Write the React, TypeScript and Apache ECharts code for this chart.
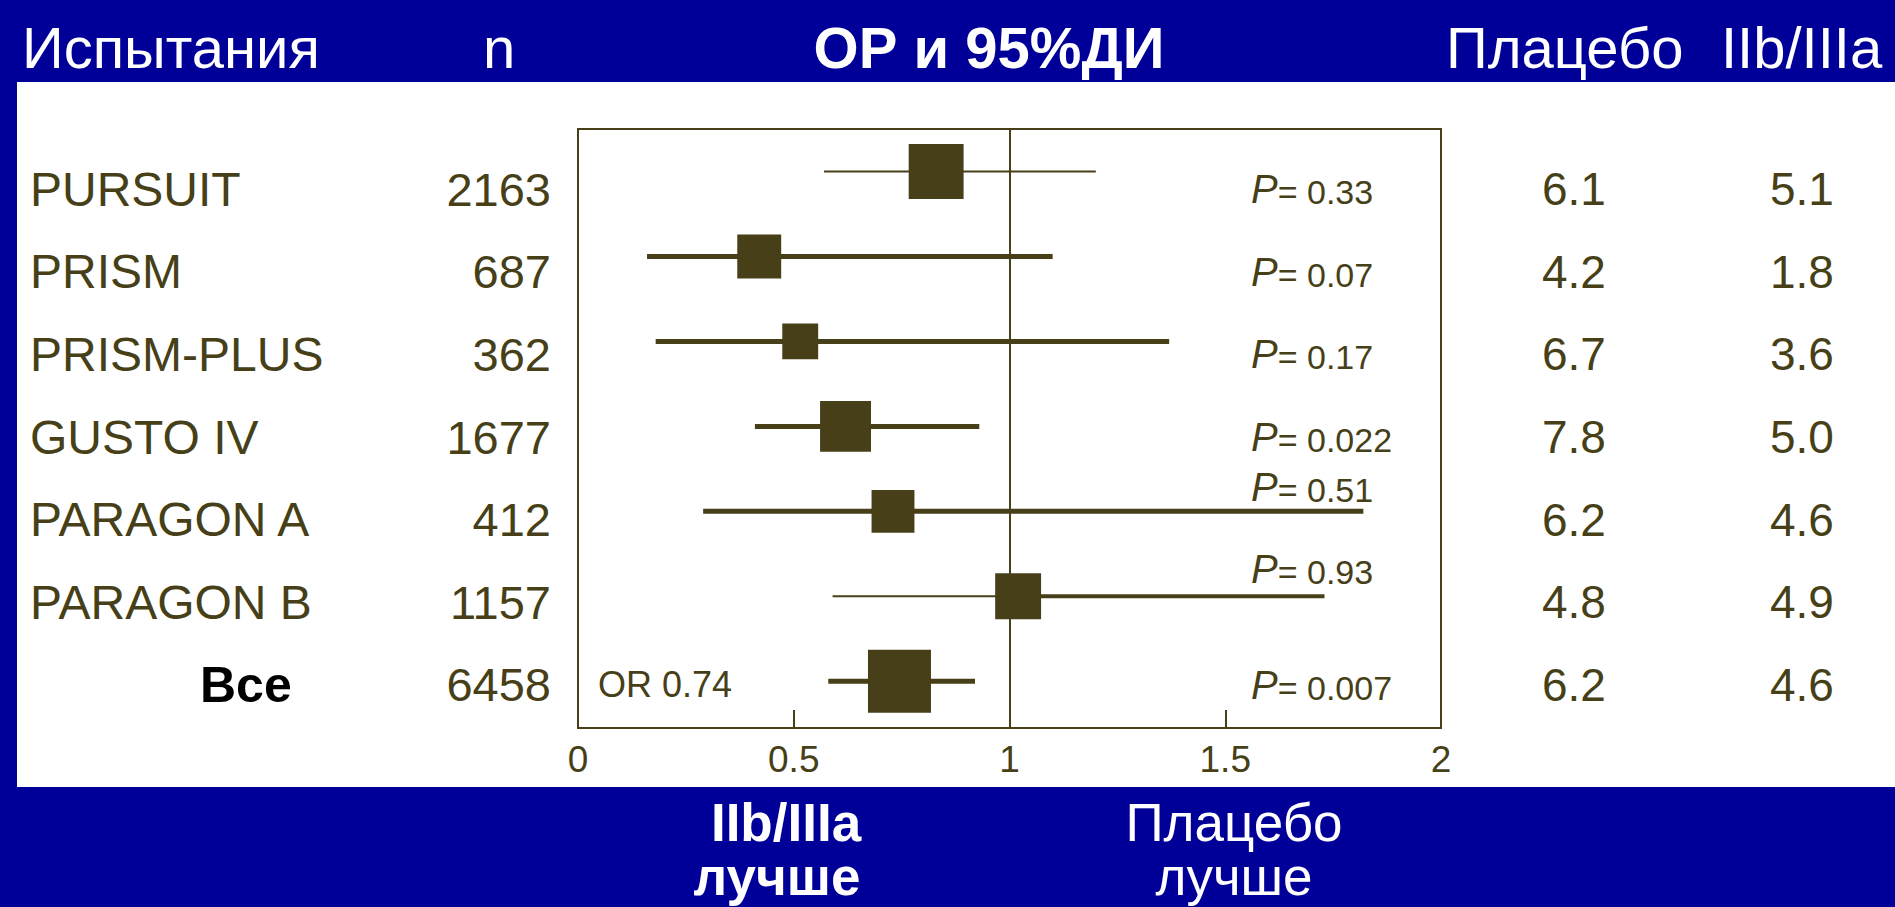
import React, { useEffect, useRef } from 'react';
import * as echarts from 'echarts';

// ---------- data ----------
const studies = ['PURSUIT', 'PRISM', 'PRISM-PLUS', 'GUSTO IV', 'PARAGON A', 'PARAGON B', 'Все'];
const nPatients = ['2163', '687', '362', '1677', '412', '1157', '6458'];
const oddsRatios = [0.83, 0.42, 0.515, 0.62, 0.73, 1.02, 0.745];
const ciLower = [0.57, 0.16, 0.18, 0.41, 0.29, 0.59, 0.58];
const ciUpper = [1.2, 1.1, 1.37, 0.93, 1.82, 1.73, 0.92];
const pValues = ['0.33', '0.07', '0.17', '0.022', '0.51', '0.93', '0.007'];
const placeboRates = ['6.1', '4.2', '6.7', '7.8', '6.2', '4.8', '6.2'];
const iib3aRates = ['5.1', '1.8', '3.6', '5.0', '4.6', '4.9', '4.6'];
const studyWeights = [23.6, 15.1, 10.1, 20.3, 14.4, 16.5, 100];
const pooledOR = '0.74';
const nullEffect = 1;
const xMin = 0;
const xMax = 2;
const xInterval = 0.5;

// ---------- style ----------
const BLUE = '#000099';
const OLIVE = '#463f18';
const FONT = '"Liberation Sans", Arial, Helvetica, sans-serif';
const summaryIndex = studies.length - 1;
const boxScale = 11.3;
const summarySide = 63;
const defaultStroke = [5, 5];
const ciStroke: Record<string, number[]> = { PURSUIT: [2, 2], 'PARAGON B': [2, 4] };
const pColumnStart = 1.55; // x value where the P column text begins

export default function App() {
  const ref = useRef<HTMLDivElement>(null);

  useEffect(() => {
    if (!ref.current) return;
    const chart = echarts.init(ref.current, undefined, { renderer: 'svg' });

    const tableAxis = (position: string, margin: number, align: string, formatter: any, extra: any = {}) => ({
      type: 'category',
      gridIndex: 1,
      position,
      inverse: true,
      data: studies,
      axisLine: { show: false },
      axisTick: { show: false },
      splitLine: { show: false },
      axisLabel: {
        show: true,
        interval: 0,
        margin,
        align,
        formatter,
        color: OLIVE,
        fontSize: 46,
        fontFamily: FONT,
        ...extra,
      },
    });

    const pRich = {
      p: { fontSize: 40, fontStyle: 'italic', color: OLIVE, fontFamily: FONT, verticalAlign: 'bottom' },
      v: { fontSize: 34, color: OLIVE, fontFamily: FONT, verticalAlign: 'bottom' },
    };
    const lifted = (i: number) => ciUpper[i] > pColumnStart;
    const white = (text: string, x: number, y: number, align: string, bold = false, size = 58) => ({
      type: 'text',
      z: 10,
      x,
      y,
      style: { text, fill: '#fff', fontSize: size, fontWeight: bold ? 'bold' : 'normal', fontFamily: FONT, verticalAlign: 'middle', align },
    });

    const option: any = {
      animation: false,
      backgroundColor: BLUE,
      textStyle: { fontFamily: FONT },
      graphic: [
        { type: 'rect', z: -10, shape: { x: 17, y: 82, width: 1878, height: 705 }, style: { fill: '#ffffff' } },
        white('Испытания', 22, 47, 'left'),
        white('n', 499, 47, 'center'),
        white('ОР и 95%ДИ', 989, 47, 'center', true),
        white('Плацебо', 1446, 47, 'left'),
        white('IIb/IIIa', 1721, 47, 'left'),
        white('IIb/IIIa', 786, 822, 'center', true, 53),
        white('лучше', 777, 876, 'center', true, 53),
        white('Плацебо', 1234, 822, 'center', false, 53),
        white('лучше', 1234, 876, 'center', false, 53),
      ],
      grid: [
        { left: 578, top: 129, width: 863, height: 599, show: true, borderColor: OLIVE, borderWidth: 2, backgroundColor: 'transparent' },
        { left: 578, top: 148, width: 863, height: 578, show: false },
      ],
      xAxis: [
        {
          type: 'value',
          gridIndex: 0,
          min: xMin,
          max: xMax,
          interval: xInterval,
          position: 'bottom',
          z: 5,
          axisLine: { show: true, onZero: false, lineStyle: { color: OLIVE, width: 2 } },
          axisTick: { show: true, inside: true, length: 18, lineStyle: { color: OLIVE, width: 2 } },
          splitLine: { show: false },
          axisLabel: { color: OLIVE, fontSize: 37, fontFamily: FONT, margin: 13, formatter: (v: number) => String(v) },
        },
        { type: 'value', gridIndex: 1, min: xMin, max: xMax, show: false },
      ],
      yAxis: [
        { type: 'value', gridIndex: 0, inverse: true, min: -0.5, max: 6.55, show: false },
        tableAxis('left', 548, 'left', (v: string, i: number) => (i === summaryIndex ? `{all|${v}}` : v), {
          fontSize: 48,
          rich: { all: { fontWeight: 'bold', color: '#000', fontSize: 50, fontFamily: FONT, padding: [0, 0, 0, 170] } },
        }),
        tableAxis('left', 27, 'right', (_v: string, i: number) => nPatients[i], { fontSize: 47 }),
        tableAxis('right', 101, 'left', (_v: string, i: number) => placeboRates[i]),
        tableAxis('right', 329, 'left', (_v: string, i: number) => iib3aRates[i]),
        tableAxis('right', -190, 'left', (_v: string, i: number) => (lifted(i) ? '' : `{p|P}{v|= ${pValues[i]}}`), { rich: pRich }),
        tableAxis('right', -190, 'left', (_v: string, i: number) => (lifted(i) ? `{p|P}{v|= ${pValues[i]}}` : ''), { rich: pRich, padding: [0, 0, 66, 0] }),
        tableAxis('left', -20, 'left', (_v: string, i: number) => (i === summaryIndex ? `OR ${pooledOR}` : ''), { fontSize: 36, padding: [26, 0, 0, 0] }),
      ],
      series: [
        {
          type: 'line',
          xAxisIndex: 0,
          yAxisIndex: 0,
          data: [],
          z: 1,
          markLine: {
            silent: true,
            symbol: ['none', 'none'],
            label: { show: false },
            lineStyle: { color: OLIVE, width: 2, type: 'solid' },
            data: [{ xAxis: nullEffect }],
          },
        },
        {
          type: 'custom',
          xAxisIndex: 0,
          yAxisIndex: 0,
          z: 3,
          encode: { x: [0, 2, 3], y: 1 },
          data: studies.map((_s, i) => [oddsRatios[i], i, ciLower[i], ciUpper[i], studyWeights[i]]),
          renderItem: (params: any, api: any) => {
            const i = params.dataIndex;
            const y = api.value(1);
            const c = api.coord([api.value(0), y]);
            const lo = api.coord([api.value(2), y]);
            const hi = api.coord([api.value(3), y]);
            const side = i === summaryIndex ? summarySide : boxScale * Math.sqrt(api.value(4));
            const stroke = ciStroke[studies[i]] || defaultStroke;
            return {
              type: 'group',
              children: [
                { type: 'line', shape: { x1: lo[0], y1: lo[1], x2: c[0], y2: c[1] }, style: { stroke: OLIVE, lineWidth: stroke[0] } },
                { type: 'line', shape: { x1: c[0], y1: c[1], x2: hi[0], y2: hi[1] }, style: { stroke: OLIVE, lineWidth: stroke[1] } },
                { type: 'rect', shape: { x: c[0] - side / 2, y: c[1] - side / 2, width: side, height: side }, style: { fill: OLIVE } },
              ],
            };
          },
        },
      ],
    };

    chart.setOption(option);
    return () => chart.dispose();
  }, []);

  return <div ref={ref} style={{ position: 'absolute', left: 0, top: 0, width: 1895, height: 907 }} />;
}
